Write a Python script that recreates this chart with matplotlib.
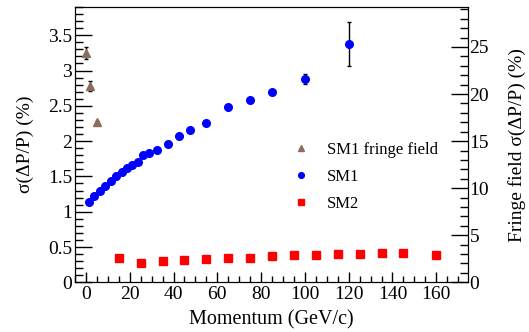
import matplotlib
matplotlib.use("Agg")
import matplotlib.pyplot as plt
from matplotlib.ticker import MultipleLocator

plt.rcParams["font.family"] = ["Liberation Serif", "DejaVu Serif"]

# SM1 fringe field (right axis, %)
fringe_p = [0, 2, 5]
fringe_res = [24.4, 20.85, 17.0]
fringe_err = [0.64, 0.56, 0.15]

# SM1 (left axis, %)
sm1_p = [1.25, 3.75, 6.25, 8.75, 11.25, 13.75, 16.25, 18.75, 21.25, 23.75,
         26.25, 28.75, 32.5, 37.5, 42.5, 47.5, 55, 65, 75, 85, 100, 120]
sm1_res = [1.14, 1.22, 1.29, 1.37, 1.43, 1.51, 1.56, 1.62, 1.66, 1.71,
           1.80, 1.83, 1.88, 1.96, 2.07, 2.16, 2.26, 2.48, 2.58, 2.69, 2.88, 3.38]
sm1_err = [0] * 20 + [0.07, 0.31]

# SM2 (left axis, %)
sm2_p = [15, 25, 35, 45, 55, 65, 75, 85, 95, 105, 115, 125, 135, 145, 160]
sm2_res = [0.34, 0.28, 0.30, 0.31, 0.33, 0.34, 0.35, 0.37, 0.38, 0.39,
           0.40, 0.40, 0.41, 0.41, 0.38]

BROWN = "#8c6d5c"
FS = 14

fig = plt.figure(figsize=(5.29, 3.32), dpi=100)
ax = fig.add_axes([0.1418, 0.1497, 0.7429, 0.8293])
ax2 = ax.twinx()

sm1 = ax.errorbar(sm1_p, sm1_res, yerr=sm1_err, fmt="o", color="blue", ms=5.5,
                  ecolor="black", elinewidth=1, capsize=1.5)
sm2, = ax.plot(sm2_p, sm2_res, "s", color="red", ms=5.5)
fr = ax2.errorbar(fringe_p, fringe_res, yerr=fringe_err, fmt="^", color=BROWN, ms=5.5,
                  ecolor="black", elinewidth=1, capsize=1.5)

ax.set_xlim(-5, 174.5)
ax.set_ylim(0, 3.9)
ax2.set_ylim(0, 29.25)

ax.xaxis.set_major_locator(MultipleLocator(20))
ax.xaxis.set_minor_locator(MultipleLocator(5))
ax.yaxis.set_minor_locator(MultipleLocator(0.1))
ax2.yaxis.set_major_locator(MultipleLocator(5))
ax2.yaxis.set_minor_locator(MultipleLocator(1))
ax.set_yticks([0, 0.5, 1, 1.5, 2, 2.5, 3, 3.5])
ax.set_yticklabels(["0", "0.5", "1", "1.5", "2", "2.5", "3", "3.5"])

ax.tick_params(axis="x", which="major", direction="in", length=7, width=1, labelsize=FS, pad=3)
ax.tick_params(axis="x", which="minor", direction="in", length=4, width=1)
ax.tick_params(axis="y", which="major", direction="in", length=12, width=1, labelsize=FS, pad=2)
ax.tick_params(axis="y", which="minor", direction="in", length=6, width=1)
ax2.tick_params(axis="y", which="major", direction="in", length=12, width=1, labelsize=FS, pad=1)
ax2.tick_params(axis="y", which="minor", direction="in", length=6, width=1)

ax.set_xlabel("Momentum (GeV/c)", fontsize=14.5, labelpad=5)
ax.set_ylabel("σ(ΔP/P) (%)", fontsize=FS, labelpad=10)
ax2.set_ylabel("Fringe field σ(ΔP/P) (%)", fontsize=FS, labelpad=14)

ax2.legend([fr[0], sm1[0], sm2], ["SM1 fringe field", "SM1", "SM2"],
           loc="center left", bbox_to_anchor=(0.524, 0.467),
           bbox_transform=fig.transFigure, frameon=False, fontsize=12,
           handlelength=1.0, handletextpad=1.06, labelspacing=0.68,
           markerscale=0.75)

fig.savefig("out.png", dpi=100)
